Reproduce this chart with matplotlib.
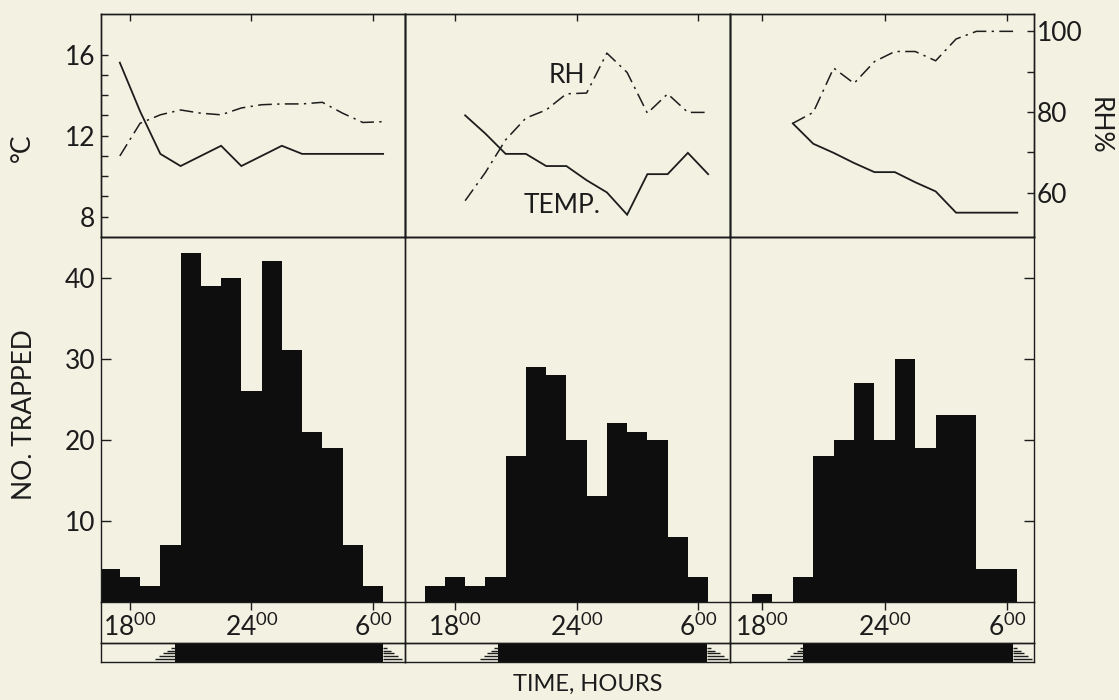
import matplotlib
matplotlib.use('Agg')
import matplotlib.pyplot as plt
import numpy as np

plt.rcParams['font.family'] = ['Lato', 'DejaVu Sans']
plt.rcParams['font.weight'] = 'normal'
plt.rcParams['mathtext.default'] = 'regular'
plt.rcParams['text.color'] = '#1c1c1c'

BG = '#f3f1e2'
INK = '#1c1c1c'

# ---------------- data ----------------
bar_hours_1 = [17, 18, 19, 20, 21, 22, 23, 24, 25, 26, 27, 28, 29, 30]
counts_1 = [4, 3, 2, 7, 43, 39, 40, 26, 42, 31, 21, 19, 7, 2]
bar_hours_2 = [17, 18, 19, 20, 21, 22, 23, 24, 25, 26, 27, 28, 29, 30]
counts_2 = [2, 3, 2, 3, 18, 29, 28, 20, 13, 22, 21, 20, 8, 3]
bar_hours_3 = [18, 19, 20, 21, 22, 23, 24, 25, 26, 27, 28, 29, 30]
counts_3 = [1, 0, 3, 18, 20, 27, 20, 30, 19, 23, 23, 4, 4]

obs_hours_1 = [17.5, 18.5, 19.5, 20.5, 21.5, 22.5, 23.5, 24.5, 25.5, 26.5, 27.5, 28.5, 29.5, 30.5]
temp_1 = [15.6, 13.2, 11.1, 10.5, 11.0, 11.5, 10.5, 11.0, 11.5, 11.1, 11.1, 11.1, 11.1, 11.1]
rh_1 = [69.1, 77.2, 79.3, 80.5, 79.7, 79.3, 81.0, 81.8, 82.0, 82.0, 82.4, 79.7, 77.4, 77.6]

obs_hours_2 = [18.5, 19.5, 20.5, 21.5, 22.5, 23.5, 24.5, 25.5, 26.5, 27.5, 28.5, 29.5, 30.5]
temp_2 = [13.0, 12.1, 11.1, 11.1, 10.5, 10.5, 9.8, 9.2, 8.1, 10.1, 10.1, 11.15, 10.1]
rh_2 = [58.0, 65.0, 73.1, 78.5, 80.5, 84.5, 84.7, 94.6, 89.8, 79.7, 84.5, 79.9, 79.9]

obs_hours_3 = [19.5, 20.5, 21.5, 22.5, 23.5, 24.5, 25.5, 26.5, 27.5, 28.5, 29.5, 30.5]
temp_3 = [12.6, 11.6, 11.15, 10.65, 10.2, 10.2, 9.7, 9.25, 8.2, 8.2, 8.2, 8.2]
rh_3 = [77.2, 79.9, 90.9, 87.1, 92.5, 95.0, 95.0, 92.7, 98.1, 100, 100, 100]

twilight_start = [19.23, 19.23, 19.21]
dark_start = [20.22, 20.12, 20.0]
dark_end = [30.51, 30.44, 30.3]
twilight_end = [31.42, 31.48, 31.2]

time_ticks = [18, 24, 30]
time_labels = [r'$18^{00}$', r'$24^{00}$', r'$6^{00}$']
temp_ticks = [8, 9, 10, 11, 12, 13, 14, 15, 16]
temp_labels = ['8', '', '', '', '12', '', '', '', '16']
rh_ticks = [60, 70, 80, 90, 100]
rh_labels = ['60', '', '80', '', '100']
count_ticks = [10, 20, 30, 40]
count_labels = ['10', '20', '30', '40']

bar_hours = [bar_hours_1, bar_hours_2, bar_hours_3]
counts = [counts_1, counts_2, counts_3]
obs_hours = [obs_hours_1, obs_hours_2, obs_hours_3]
temps = [temp_1, temp_2, temp_3]
rhs = [rh_1, rh_2, rh_3]

# ---------------- layout ----------------
W, H = 1119, 700
fig = plt.figure(figsize=(W / 100, H / 100), dpi=100, facecolor=BG)


def rect(x0, x1, y0, y1):
    return [x0 / W, 1 - y1 / H, (x1 - x0) / W, (y1 - y0) / H]


px_x = [(101, 405), (405, 730), (730, 1034)]
xlims = [(16.57, 31.58), (15.53, 31.58), (16.42, 31.32)]
top_y = (14, 237)
bot_y = (237, 601.8)
lab_y = (601.8, 643)
dark_y = (643, 662)

LW = 1.0
DASHDOT = (0, (9, 3.5, 1.5, 3.5))
TICKFS = 19


def style(ax):
    ax.set_facecolor('none')
    for s in ax.spines.values():
        s.set_linewidth(LW)
        s.set_color(INK)
    ax.tick_params(colors=INK, labelcolor=INK, labelsize=TICKFS, width=LW)


for i in range(3):
    x0, x1 = px_x[i]
    # ---- upper panel: temperature and RH ----
    axT = fig.add_axes(rect(x0, x1, *top_y))
    style(axT)
    axT.set_xlim(*xlims[i])
    axT.set_ylim(7, 18)
    axT.plot(obs_hours[i], temps[i], color=INK, lw=1.3, solid_joinstyle='miter')
    axT.set_xticks(time_ticks)
    axT.tick_params(axis='x', which='both', top=True, bottom=False, direction='in',
                    length=5, labelbottom=False, labeltop=False)
    if i == 0:
        axT.set_yticks(temp_ticks)
        axT.set_yticklabels(temp_labels)
        axT.tick_params(axis='y', direction='in', length=5, pad=4)
    else:
        axT.set_yticks([])
    axR = axT.twinx()
    style(axR)
    axR.set_ylim(49, 104.3)
    axR.plot(obs_hours[i], rhs[i], color=INK, lw=1.1, linestyle=DASHDOT)
    if i == 2:
        axR.set_yticks(rh_ticks)
        axR.set_yticklabels(rh_labels)
        axR.tick_params(axis='y', direction='in', length=5, pad=2)
    else:
        axR.set_yticks([])
    if i == 1:
        axT.text(23.53, 14.96, 'RH', fontsize=19, color=INK, ha='center', va='center')
        axT.text(23.28, 8.54, 'TEMP.', fontsize=19, color=INK, ha='center', va='center')

    # ---- lower panel: catches ----
    axB = fig.add_axes(rect(x0, x1, *bot_y))
    style(axB)
    axB.set_xlim(*xlims[i])
    axB.set_ylim(0, 45)
    axB.bar(bar_hours[i], counts[i], width=1.0, color='#0e0e0e', edgecolor='none')
    axB.set_xticks(time_ticks)
    axB.set_xticklabels(time_labels)
    axB.tick_params(axis='x', direction='out', length=6, pad=2.5, labelsize=TICKFS)
    if i == 0:
        axB.set_yticks(count_ticks)
        axB.set_yticklabels(count_labels)
        axB.tick_params(axis='y', direction='in', length=7, pad=4)
    elif i == 2:
        axB.set_yticks(count_ticks)
        axB.tick_params(axis='y', left=False, right=True, labelleft=False,
                        direction='in', length=7)
    else:
        axB.set_yticks([])

    # ---- label strip (box only) ----
    axL = fig.add_axes(rect(x0, x1, *lab_y))
    style(axL)
    axL.set_xticks([])
    axL.set_yticks([])
    axL.spines['top'].set_visible(False)

    # ---- light / dark strip ----
    axD = fig.add_axes(rect(x0, x1, *dark_y))
    style(axD)
    axD.set_xlim(*xlims[i])
    axD.set_ylim(0, 1)
    axD.set_xticks([])
    axD.set_yticks([])
    axD.barh(0.5, dark_end[i] - dark_start[i], left=dark_start[i], height=1.0,
             color='#0e0e0e', edgecolor='none')
    dusk_len = dark_start[i] - twilight_start[i]
    dawn_len = twilight_end[i] - dark_end[i]
    levels = [0.15, 0.3, 0.45, 0.6, 0.75]
    fracs = [1.0, 0.8, 0.6, 0.4, 0.2]
    for yv, f in zip(levels, fracs):
        axD.hlines(yv, dark_start[i] - f * dusk_len, dark_start[i], color=INK, lw=1.0)
        axD.hlines(yv, dark_end[i], dark_end[i] + f * dawn_len, color=INK, lw=1.0)

fig.text(22 / W, 1 - 148 / H, '°C', rotation=90, ha='center', va='center',
         fontsize=19, color=INK)
fig.text(25 / W, 1 - 415 / H, 'NO. TRAPPED', rotation=90, ha='center', va='center',
         fontsize=19, color=INK)
fig.text(1099 / W, 1 - 126 / H, 'RH%', rotation=270, ha='center', va='center',
         fontsize=19, color=INK)
fig.text(588 / W, 1 - 684 / H, 'TIME, HOURS', ha='center', va='center',
         fontsize=17, color=INK)

fig.savefig('out.png', dpi=100, facecolor=BG)
